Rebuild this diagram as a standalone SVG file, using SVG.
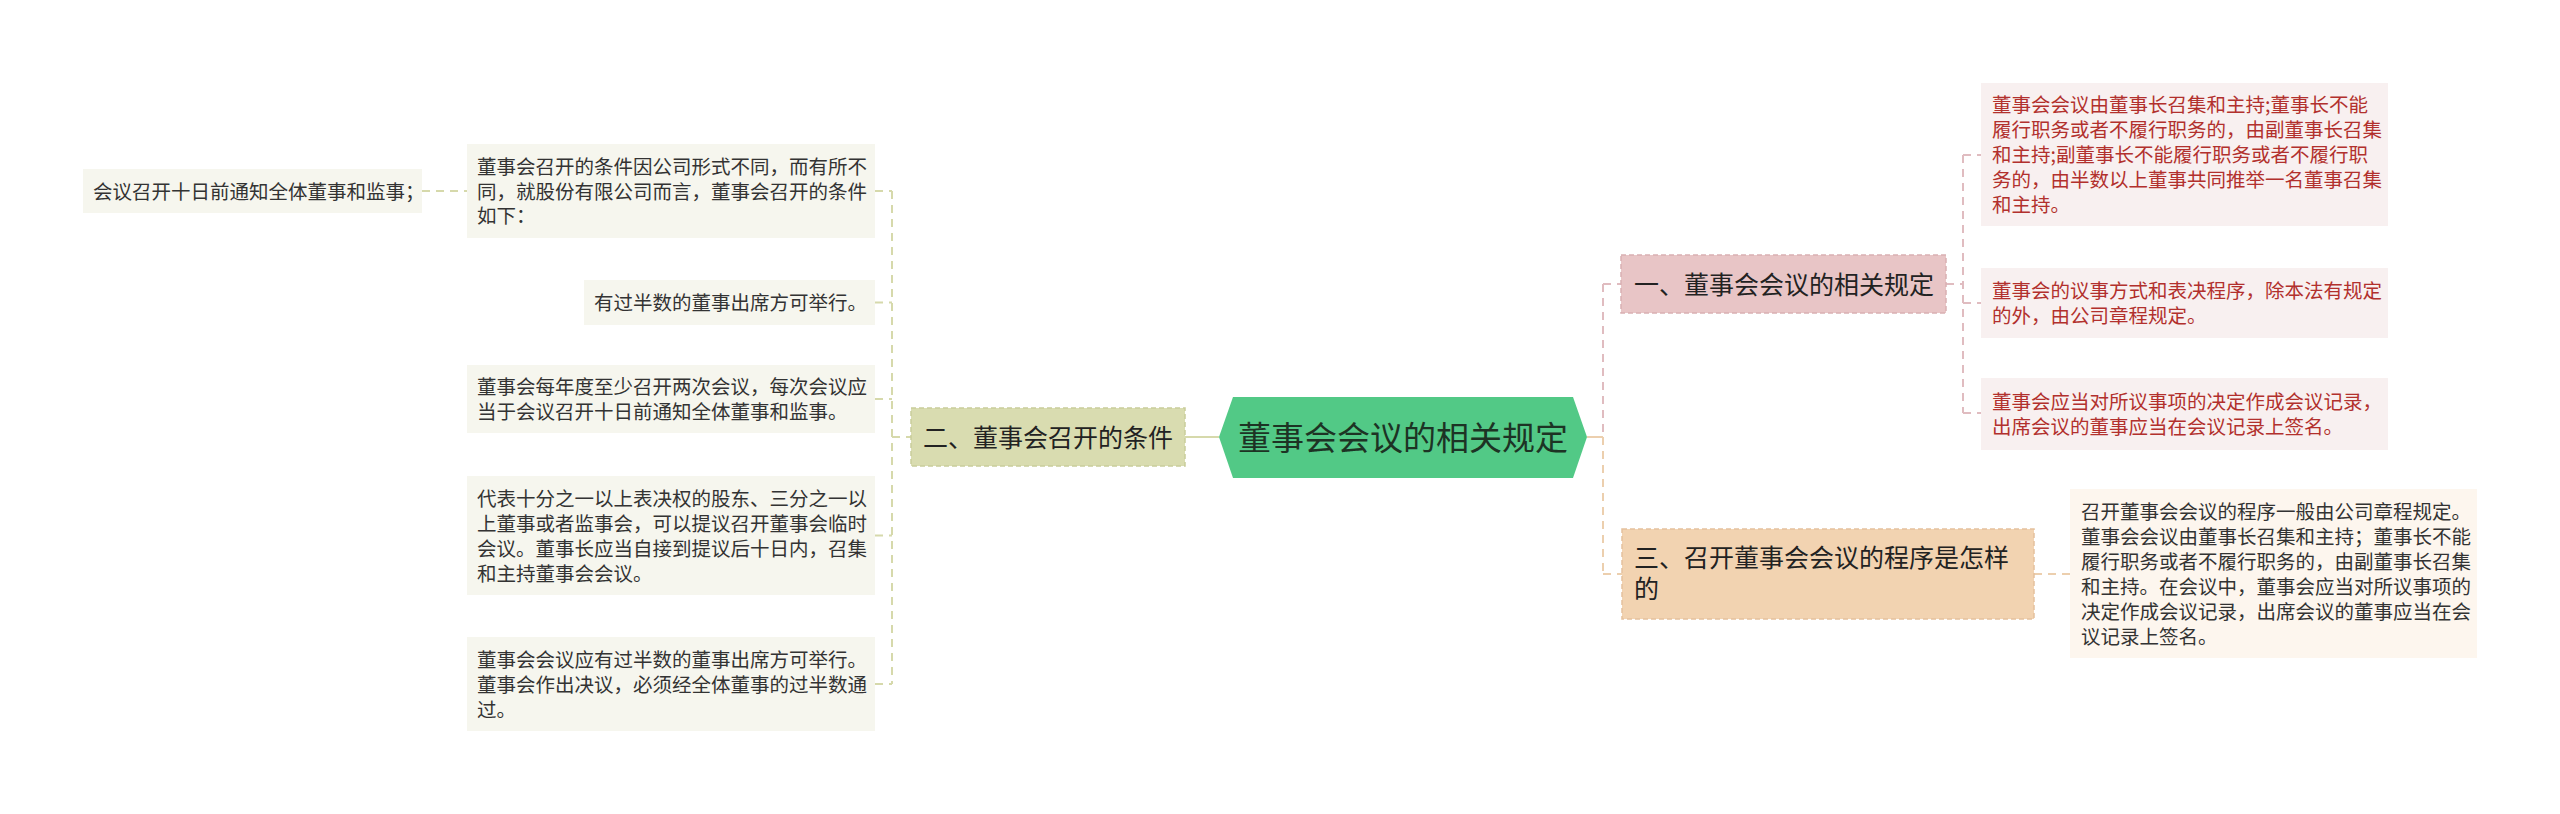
<svg xmlns="http://www.w3.org/2000/svg" width="2560" height="814" viewBox="0 0 2560 814">
<style>
text{font-family:"Noto Sans CJK SC","Noto Sans",sans-serif;}
.leaf{font-size:19.5px;fill:#333333;}
.leafL{fill:#f6f6ee;}
.leafR{fill:#f8f0f0;}
.leafT{fill:#fdf6ee;}
.red{fill:#b2302d;}
.main{font-size:25px;fill:#222222;}
.c{fill:none;stroke-width:2;}
.d{stroke-dasharray:8 6;}
.ol{stroke:#d6d9ab;}
.pk{stroke:#e0bcc0;}
.tn{stroke:#eccfae;}
</style>
<rect width="2560" height="814" fill="#ffffff"/>
<g id="connectors">
<line class="c ol" x1="1185" y1="437" x2="1219" y2="437"/>
<line class="c d ol" x1="892" y1="437" x2="911" y2="437"/>
<line class="c d ol" x1="892" y1="191" x2="892" y2="684"/>
<line class="c d ol" x1="875" y1="191" x2="892" y2="191"/>
<line class="c d ol" x1="875" y1="302.5" x2="892" y2="302.5"/>
<line class="c d ol" x1="875" y1="399" x2="892" y2="399"/>
<line class="c d ol" x1="875" y1="535.5" x2="892" y2="535.5"/>
<line class="c d ol" x1="875" y1="684" x2="892" y2="684"/>
<line class="c d ol" x1="422" y1="191" x2="467" y2="191"/>
<line class="c tn" x1="1587" y1="437" x2="1603" y2="437"/>
<line class="c d pk" x1="1603" y1="284" x2="1603" y2="437"/>
<line class="c d tn" x1="1603" y1="437" x2="1603" y2="574"/>
<line class="c d pk" x1="1603" y1="284" x2="1621" y2="284"/>
<line class="c d tn" x1="1603" y1="574" x2="1622" y2="574"/>
<line class="c d pk" x1="1946" y1="284" x2="1963" y2="284"/>
<line class="c d pk" x1="1963" y1="155" x2="1963" y2="413"/>
<line class="c d pk" x1="1963" y1="155" x2="1981" y2="155"/>
<line class="c d pk" x1="1963" y1="303" x2="1981" y2="303"/>
<line class="c d pk" x1="1963" y1="413" x2="1981" y2="413"/>
<line class="c d tn" x1="2034" y1="574" x2="2070" y2="574"/>
</g>
<g id="root">
<polygon points="1219,437 1233,397 1573,397 1587,437 1573,478 1233,478" fill="#52c986"/>
<text x="1403" y="449.5" text-anchor="middle" font-size="33" fill="#1d3324">董事会会议的相关规定</text>
</g>
<g id="n2">
<rect x="911" y="408" width="274" height="58" fill="#d9dcb0" stroke="#c9cd9a" stroke-width="1.5" stroke-dasharray="5 3"/>
<text class="main" x="923" y="446.5">二、董事会召开的条件</text>
</g>
<g id="n2a">
<rect class="leafL" x="467" y="144" width="408" height="94"/>
<text class="leaf" x="477" y="174">董事会召开的条件因公司形式不同，而有所不</text>
<text class="leaf" x="477" y="198.5">同，就股份有限公司而言，董事会召开的条件</text>
<text class="leaf" x="477" y="223">如下：</text>
</g>
<g id="n2a1">
<rect class="leafL" x="83" y="169" width="339" height="44"/>
<text class="leaf" x="93" y="198.5">会议召开十日前通知全体董事和监事；</text>
</g>
<g id="n2b">
<rect class="leafL" x="584" y="280" width="291" height="45"/>
<text class="leaf" x="594" y="310">有过半数的董事出席方可举行。</text>
</g>
<g id="n2c">
<rect class="leafL" x="467" y="365" width="408" height="68"/>
<text class="leaf" x="477" y="394">董事会每年度至少召开两次会议，每次会议应</text>
<text class="leaf" x="477" y="419">当于会议召开十日前通知全体董事和监事。</text>
</g>
<g id="n2d">
<rect class="leafL" x="467" y="476" width="408" height="119"/>
<text class="leaf" x="477" y="505.5">代表十分之一以上表决权的股东、三分之一以</text>
<text class="leaf" x="477" y="530.5">上董事或者监事会，可以提议召开董事会临时</text>
<text class="leaf" x="477" y="555.5">会议。董事长应当自接到提议后十日内，召集</text>
<text class="leaf" x="477" y="580.5">和主持董事会会议。</text>
</g>
<g id="n2e">
<rect class="leafL" x="467" y="637" width="408" height="94"/>
<text class="leaf" x="477" y="666.5">董事会会议应有过半数的董事出席方可举行。</text>
<text class="leaf" x="477" y="691.5">董事会作出决议，必须经全体董事的过半数通</text>
<text class="leaf" x="477" y="716.5">过。</text>
</g>
<g id="n1">
<rect x="1621" y="255" width="325" height="58" fill="#e8c5c6" stroke="#d9b0b2" stroke-width="1.5" stroke-dasharray="5 3"/>
<text class="main" x="1634" y="293.5">一、董事会会议的相关规定</text>
</g>
<g id="n1a">
<rect class="leafR" x="1981" y="83" width="407" height="143"/>
<text class="leaf red" x="1992" y="112">董事会会议由董事长召集和主持;董事长不能</text>
<text class="leaf red" x="1992" y="137">履行职务或者不履行职务的，由副董事长召集</text>
<text class="leaf red" x="1992" y="162">和主持;副董事长不能履行职务或者不履行职</text>
<text class="leaf red" x="1992" y="187">务的，由半数以上董事共同推举一名董事召集</text>
<text class="leaf red" x="1992" y="212">和主持。</text>
</g>
<g id="n1b">
<rect class="leafR" x="1981" y="268" width="407" height="70"/>
<text class="leaf red" x="1992" y="298">董事会的议事方式和表决程序，除本法有规定</text>
<text class="leaf red" x="1992" y="323">的外，由公司章程规定。</text>
</g>
<g id="n1c">
<rect class="leafR" x="1981" y="378" width="407" height="72"/>
<text class="leaf red" x="1992" y="409">董事会应当对所议事项的决定作成会议记录，</text>
<text class="leaf red" x="1992" y="434">出席会议的董事应当在会议记录上签名。</text>
</g>
<g id="n3">
<rect x="1622" y="529" width="412" height="90" fill="#f2d3b1" stroke="#e5c19d" stroke-width="1.5" stroke-dasharray="5 3"/>
<text class="main" x="1634" y="567">三、召开董事会会议的程序是怎样</text>
<text class="main" x="1634" y="598">的</text>
</g>
<g id="n3a">
<rect class="leafT" x="2070" y="489" width="407" height="169"/>
<text class="leaf" x="2081" y="518.5">召开董事会会议的程序一般由公司章程规定。</text>
<text class="leaf" x="2081" y="543.5">董事会会议由董事长召集和主持；董事长不能</text>
<text class="leaf" x="2081" y="568.5">履行职务或者不履行职务的，由副董事长召集</text>
<text class="leaf" x="2081" y="593.5">和主持。在会议中，董事会应当对所议事项的</text>
<text class="leaf" x="2081" y="618.5">决定作成会议记录，出席会议的董事应当在会</text>
<text class="leaf" x="2081" y="643.5">议记录上签名。</text>
</g>
</svg>
